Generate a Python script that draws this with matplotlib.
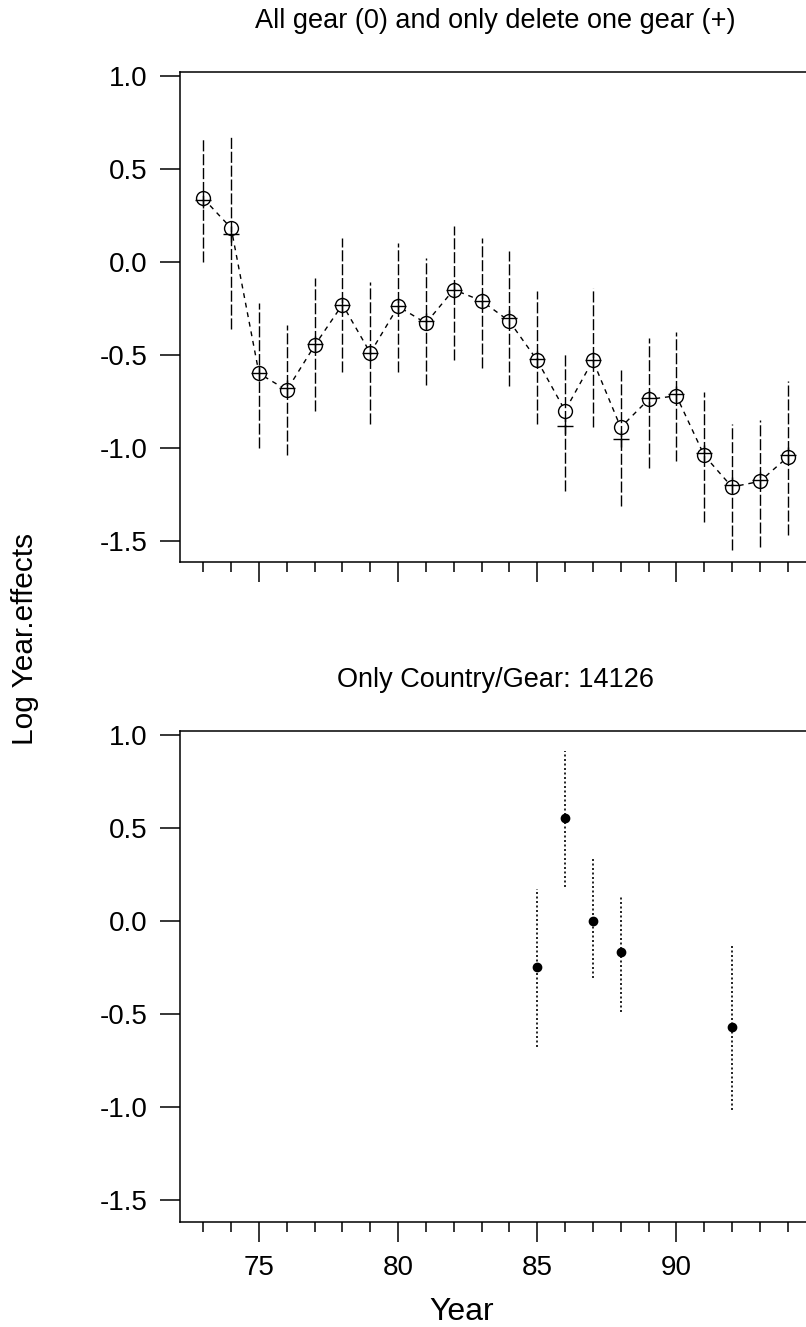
import matplotlib
matplotlib.use('Agg')
import matplotlib.pyplot as plt
import numpy as np

plt.rcParams['font.family'] = ['Liberation Sans', 'DejaVu Sans']
plt.rcParams['axes.unicode_minus'] = False

# top panel: all gear (circles) and delete one gear (+)
years = np.arange(73, 95)
all_gear = [0.34, 0.18, -0.60, -0.69, -0.45, -0.23, -0.49, -0.24, -0.33, -0.15, -0.21,
            -0.32, -0.53, -0.80, -0.53, -0.89, -0.74, -0.72, -1.04, -1.21, -1.18, -1.05]
all_lo = [0.00, -0.36, -1.00, -1.04, -0.80, -0.59, -0.87, -0.59, -0.66, -0.53, -0.57,
          -0.67, -0.87, -1.23, -0.89, -1.31, -1.11, -1.07, -1.40, -1.55, -1.53, -1.47]
all_hi = [0.67, 0.67, -0.22, -0.34, -0.09, 0.13, -0.11, 0.10, 0.02, 0.19, 0.13,
          0.06, -0.16, -0.49, -0.14, -0.58, -0.41, -0.38, -0.70, -0.87, -0.85, -0.64]
del_one = [0.33, 0.15, -0.60, -0.68, -0.44, -0.23, -0.49, -0.24, -0.32, -0.15, -0.21,
           -0.30, -0.52, -0.88, -0.53, -0.95, -0.73, -0.71, -1.03, -1.20, -1.17, -1.04]

# bottom panel: only country/gear 14126
sub_years = [85, 86, 87, 88, 92]
sub_eff = [-0.25, 0.55, 0.00, -0.17, -0.57]
sub_lo = [-0.68, 0.18, -0.31, -0.49, -1.02]
sub_hi = [0.17, 0.91, 0.33, 0.13, -0.13]

yticks = [1.0, 0.5, 0.0, -0.5, -1.0, -1.5]
ytick_labels = ['1.0', '0.5', '0.0', '-0.5', '-1.0', '-1.5']
xticks = [75, 80, 85, 90]

W, H = 806, 1327
fig = plt.figure(figsize=(W / 100, H / 100), dpi=100)

def pos(left, top, right, bottom):
    return [left / W, 1 - bottom / H, (right - left) / W, (bottom - top) / H]

ax1 = fig.add_axes(pos(180, 72, 811, 562))
ax2 = fig.add_axes(pos(180, 731, 811, 1222))

for ax in (ax1, ax2):
    ax.set_xlim(72.16, 94.84)
    ax.set_xticks(xticks)
    ax.set_xticks(years, minor=True)
    ax.set_yticks(yticks)
    ax.set_yticklabels(ytick_labels)
    ax.tick_params(axis='both', which='major', direction='out', length=14.5, width=1.1,
                   labelsize=20, pad=9)
    ax.tick_params(axis='x', which='minor', direction='out', length=7, width=1.1)
    for s in ax.spines.values():
        s.set_linewidth(1.1)

ax1.set_ylim(-1.613, 1.019)
ax2.set_ylim(-1.62, 1.02)
ax1.set_xticklabels([])
ax2.set_xticklabels([str(t) for t in xticks])

# top panel
ax1.plot(years, all_gear, color='black', lw=1.0, ls=(0, (3.5, 3.5)), zorder=1)
ax1.plot(years, all_gear, 'o', ms=10, mfc='white', mec='white', mew=0, zorder=2)
ax1.vlines(years, all_lo, all_hi, colors='black', lw=1.0, linestyles=(0, (8, 2)), zorder=3)
ax1.plot(years, all_gear, 'o', ms=10, mfc='none', mec='black', mew=1.0, zorder=4)
ax1.plot(years, del_one, '+', ms=12, color='black', mew=1.0, zorder=5)
ax1.set_title('All gear (0) and only delete one gear (+)', fontsize=19.5, pad=32)

# bottom panel
ax2.vlines(sub_years, sub_lo, sub_hi, colors='black', lw=1.2, linestyles=(0, (1.2, 1.5)))
ax2.plot(sub_years, sub_eff, 'o', ms=6, color='black')
ax2.set_title('Only Country/Gear: 14126', fontsize=19.5, pad=32)

fig.text(462 / W, 1 - 1312 / H, 'Year', fontsize=23, ha='center', va='center')
fig.text(25 / W, 1 - 639 / H, 'Log Year.effects', fontsize=21.5, rotation=90,
         ha='center', va='center')

fig.savefig('out.png', dpi=100)
